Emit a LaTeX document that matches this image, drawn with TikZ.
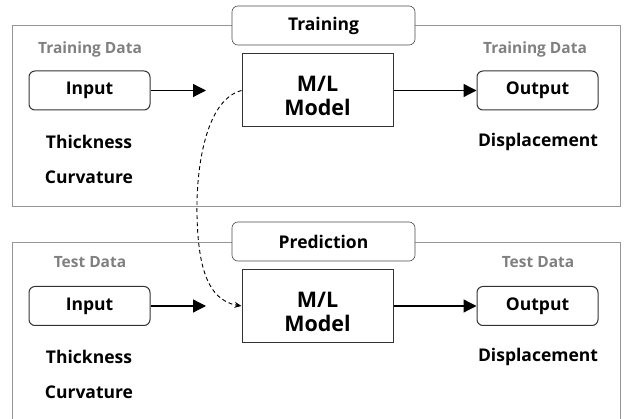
\documentclass[tikz,border=0pt]{standalone}
\usepackage{fontspec}
\setmainfont{Open Sans}[BoldFont={* Bold}]
\usetikzlibrary{arrows.meta}
\definecolor{frame}{RGB}{150,150,150}
\definecolor{graytxt}{RGB}{128,128,128}
\begin{document}
\begin{tikzpicture}[x=1pt,y=-1pt,
  panel/.style={draw=frame,line width=0.8pt},
  tab/.style={draw=black!70,fill=white,rounded corners=6pt,line width=0.6pt,minimum width=183pt,minimum height=39pt,font=\fontsize{17.5}{20}\selectfont\bfseries},
  iobox/.style={draw=black!80,rounded corners=6pt,line width=1pt,minimum width=121pt,minimum height=39pt,font=\fontsize{17.5}{20}\selectfont\bfseries},
  model/.style={draw=black!80,line width=1pt,minimum width=151pt,minimum height=73pt},
  mtext/.style={align=center,font=\fontsize{21.5}{24}\selectfont\bfseries},
  lbl/.style={font=\fontsize{17.5}{20}\selectfont\bfseries},
  glbl/.style={font=\fontsize{15.5}{18}\selectfont\bfseries,text=graytxt},
  arr/.style={-{Triangle[length=13pt,width=13pt]},line width=1.3pt}]
\useasboundingbox (0,0) rectangle (624,419);
\begin{scope}
\clip (0,0) rectangle (624,419);
% top panel
\draw[panel] (12,25) rectangle (620,206);
\node[tab] (train) at (323.5,25.5) {Training};
\node[glbl] (tdl) at (90,49) {Training Data};
\node[glbl] (tdr) at (535,49) {Training Data};
\node[iobox] (in1) at (89.5,90.5) {Input};
\node[model] (m1) at (317.5,90.5) {};
\node[mtext] (m1t) at (317.5,96) {M/L\\Model};
\node[iobox] (out1) at (537.5,90.5) {Output};
\coordinate (a1) at (206,90.5);
\draw[arr] (in1.east) -- (a1);
\draw[arr] (m1.east) -- (out1.west);
\node[lbl] (th1) at (89,142) {Thickness};
\node[lbl] (cu1) at (89,177) {Curvature};
\node[lbl] (di1) at (538,142) {Displacement};
% bottom panel
\draw[panel] (620,430) -- (620,242) -- (12,242) -- (12,430);
\node[tab] (pred) at (323.5,241.5) {Prediction};
\node[glbl] (tsl) at (90,262) {Test Data};
\node[glbl] (tsr) at (538,262) {Test Data};
\node[iobox] (in2) at (89.5,306) {Input};
\node[model] (m2) at (317.5,306) {};
\node[mtext] (m2t) at (317.5,311.5) {M/L\\Model};
\node[iobox] (out2) at (537.5,306) {Output};
\coordinate (a2) at (206,306);
\draw[arr] (in2.east) -- (a2);
\draw[arr] (m2.east) -- (out2.west);
\node[lbl] (th2) at (89,357) {Thickness};
\node[lbl] (cu2) at (89,392) {Curvature};
\node[lbl] (di2) at (538,357) {Displacement};
% dashed link
\draw[dash pattern=on 4pt off 3pt,line width=0.9pt,-{Stealth[length=7pt,width=6pt]}]
  (m1.west) .. controls (205,100) and (196,170) .. (197,215)
  .. controls (198,260) and (205,300) .. (m2.west);
\end{scope}
\end{tikzpicture}
\end{document}
